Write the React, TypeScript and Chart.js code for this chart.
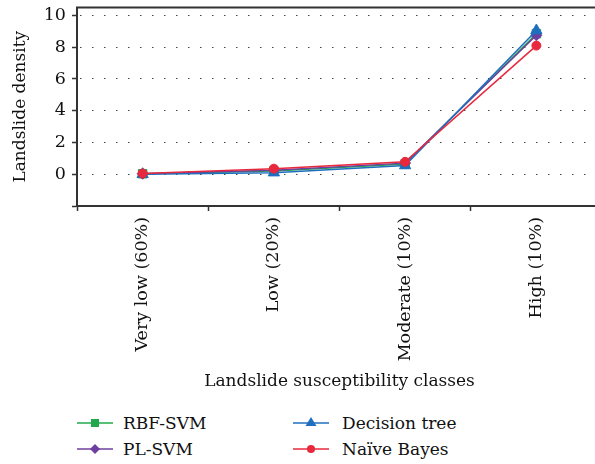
import React, { useEffect, useRef } from "react";
import { Chart, registerables } from "chart.js";

Chart.register(...registerables);

const categories = ["Very low (60%)", "Low (20%)", "Moderate (10%)", "High (10%)"];
const seriesNames = ["RBF-SVM", "PL-SVM", "Decision tree", "Naïve Bayes"];
const rbfSvm = [0.03, 0.2, 0.65, 8.85];
const plSvm = [0.03, 0.25, 0.7, 8.75];
const decisionTree = [0.0, 0.1, 0.55, 9.05];
const naiveBayes = [0.05, 0.35, 0.78, 8.1];
const yTickValues = [0, 2, 4, 6, 8, 10];

const colors = ["#22a84a", "#6f3fa0", "#1f6fbf", "#e8283c"];
const shapes = ["rect", "rectRot", "triangle", "circle"];
const radii = [6, 5.5, 6.5, 4.5];
const orders = [3, 2, 1, 0];
const FONT = "'DejaVu Serif', serif";

const topLine = {
  id: "topLine",
  afterDraw(chart: any) {
    const { ctx, chartArea } = chart;
    ctx.save();
    ctx.strokeStyle = "#333";
    ctx.lineWidth = 2;
    ctx.beginPath();
    ctx.moveTo(chartArea.left - 1, chartArea.top);
    ctx.lineTo(chart.width, chartArea.top);
    ctx.stroke();
    ctx.restore();
  },
};

function Symbol({ idx }: { idx: number }) {
  const c = colors[idx];
  let marker: any = null;
  if (shapes[idx] === "rect") marker = <rect x={14} y={6} width={8} height={8} fill={c} />;
  else if (shapes[idx] === "rectRot") marker = <polygon points="18,5 23,10 18,15 13,10" fill={c} />;
  else if (shapes[idx] === "triangle") marker = <polygon points="18,4 23.5,13 12.5,13" fill={c} />;
  else marker = <circle cx={18} cy={10} r={4} fill={c} />;
  return (
    <svg width={36} height={20} style={{ display: "block" }}>
      <line x1={0} y1={10} x2={36} y2={10} stroke={c} strokeWidth={1.5} />
      {marker}
    </svg>
  );
}

export default function App() {
  const ref = useRef<HTMLCanvasElement>(null);
  useEffect(() => {
    const data = [rbfSvm, plSvm, decisionTree, naiveBayes];
    const chart = new Chart(ref.current!, {
      type: "line",
      data: {
        labels: categories,
        datasets: data.map((d, i) => ({
          label: seriesNames[i],
          data: d,
          borderColor: colors[i],
          backgroundColor: colors[i],
          borderWidth: 1.5,
          pointStyle: shapes[i] as any,
          pointRadius: radii[i],
          pointBorderWidth: 1,
          pointBorderColor: colors[i],
          order: orders[i],
          tension: 0,
        })),
      },
      plugins: [topLine],
      options: {
        animation: false,
        responsive: false,
        events: [],
        layout: { padding: { top: 7, right: 10, left: 0, bottom: 0 } },
        plugins: { legend: { display: false }, tooltip: { enabled: false } },
        scales: {
          x: {
            type: "category",
            offset: true,
            grid: {
              display: true,
              offset: true,
              drawOnChartArea: false,
              drawTicks: true,
              tickLength: 5,
              tickColor: "#333",
              tickWidth: 1.5,
            },
            border: { color: "#333", width: 2 },
            ticks: {
              color: "#111",
              font: { family: FONT, size: 17.5 },
              minRotation: 90,
              maxRotation: 90,
              padding: 6,
            },
            title: {
              display: true,
              text: "Landslide susceptibility classes",
              color: "#111",
              font: { family: FONT, size: 17 },
              padding: { top: 0, bottom: 4 },
            },
            afterFit(scale: any) {
              scale.height = 190;
              scale.paddingLeft = 0;
              scale.paddingRight = 0;
            },
          },
          y: {
            min: -2,
            max: 10.5,
            grid: {
              color: "#444",
              lineWidth: 1,
              tickColor: "#333",
              tickLength: 5,
              tickWidth: 1.5,
              tickBorderDash: [],
            },
            border: { color: "#333", width: 2, dash: [1.5, 10.5], dashOffset: 10 },
            ticks: {
              stepSize: 2,
              includeBounds: false,
              color: "#111",
              font: { family: FONT, size: 17.5 },
              padding: 6,
              callback: (v: any) => (yTickValues.includes(Number(v)) ? String(v) : ""),
            },
            title: {
              display: true,
              text: "Landslide density",
              color: "#111",
              font: { family: FONT, size: 17 },
              padding: { top: 10, bottom: 0 },
            },
            afterFit(scale: any) {
              scale.width = 77;
              scale.paddingTop = 0;
              scale.paddingBottom = 0;
            },
          },
        },
      },
    });
    return () => chart.destroy();
  }, []);

  const legendPos = [
    { x: 77, y: 423, tx: 123 },
    { x: 77, y: 449, tx: 123 },
    { x: 293, y: 423, tx: 342 },
    { x: 293, y: 449, tx: 342 },
  ];

  return (
    <div style={{ position: "fixed", left: 0, top: 0, width: 595, height: 464, overflow: "hidden", background: "#fff" }}>
      <canvas ref={ref} width={612} height={396} style={{ position: "absolute", left: 0, top: 0 }} />
      {seriesNames.map((name, i) => (
        <React.Fragment key={name}>
          <div style={{ position: "absolute", left: legendPos[i].x, top: legendPos[i].y - 10 }}>
            <Symbol idx={i} />
          </div>
          <div
            style={{
              position: "absolute",
              left: legendPos[i].tx,
              top: legendPos[i].y - 11,
              fontFamily: FONT,
              fontSize: 17,
              lineHeight: "22px",
              color: "#111",
              whiteSpace: "nowrap",
            }}
          >
            {name}
          </div>
        </React.Fragment>
      ))}
    </div>
  );
}
